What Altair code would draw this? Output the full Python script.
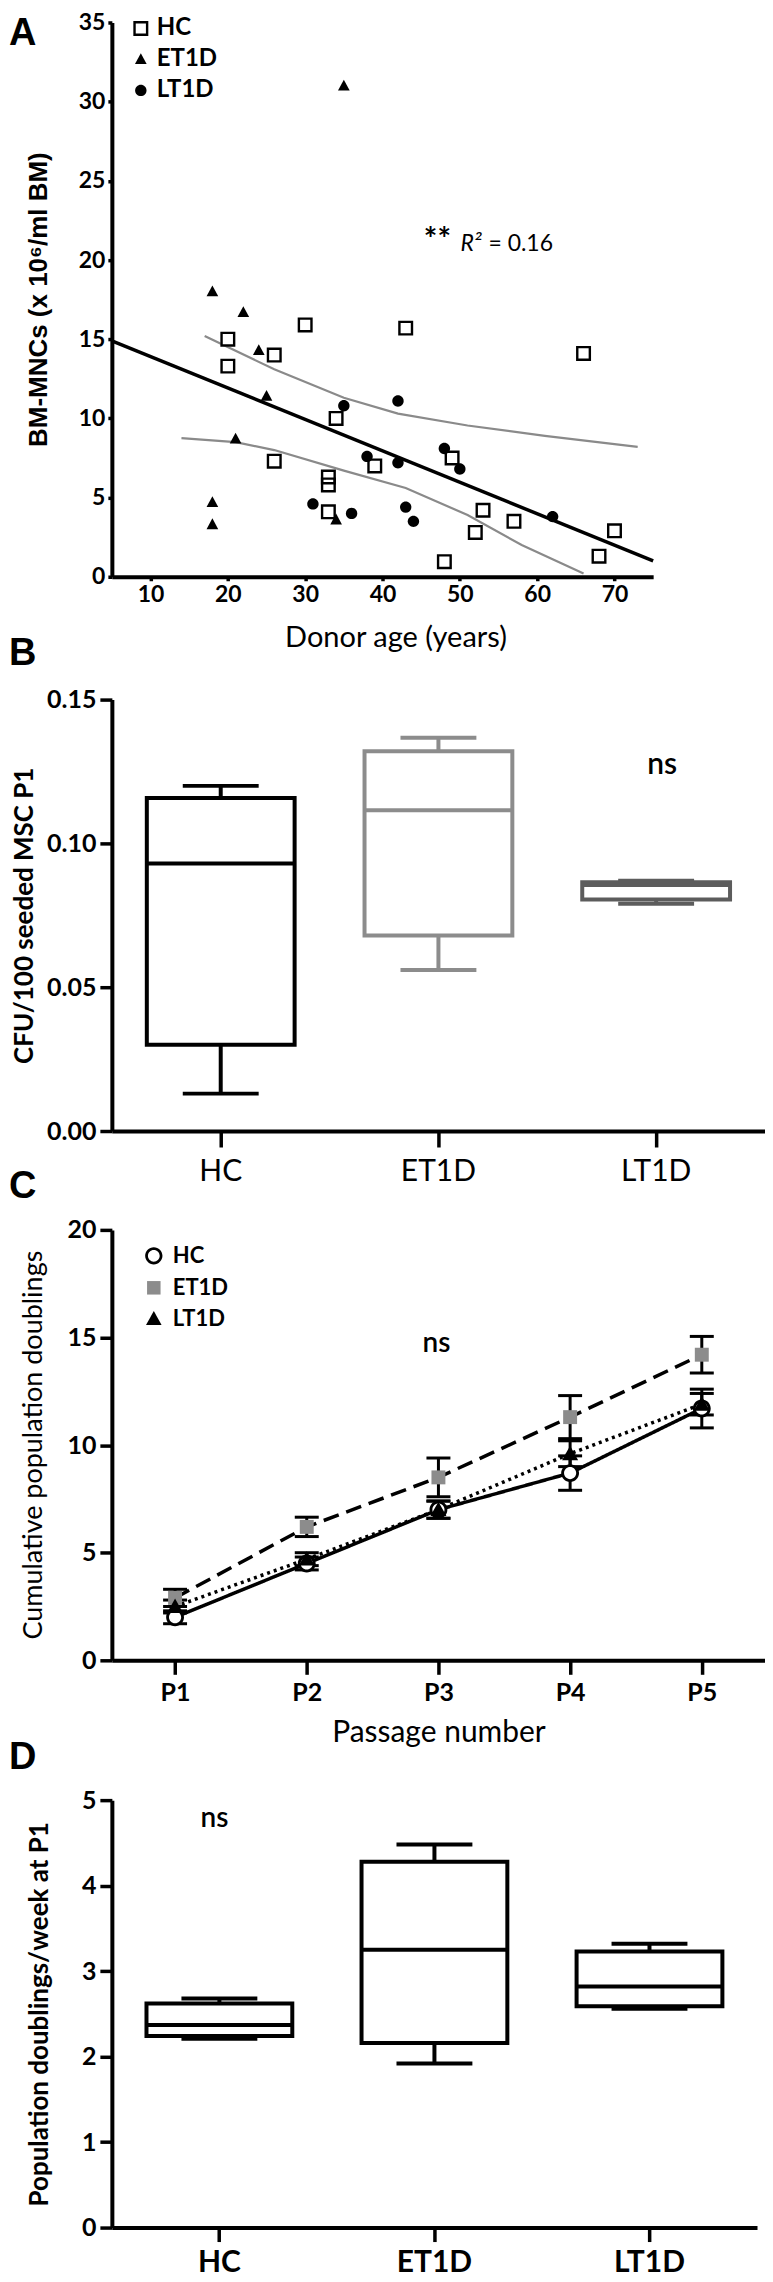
import altair as alt
import pandas as pd

# ---------------- Panel A: BM-MNCs vs donor age ----------------
hc_age = [20, 20, 26, 30, 43, 66, 26, 34, 33, 33, 33, 39, 49, 53, 52, 57, 48, 68, 70]
hc_mnc = [15.0, 13.3, 14.0, 15.9, 15.7, 14.1, 7.3, 10.0, 6.3, 5.8, 4.1, 7.0, 7.5, 4.2, 2.8, 3.5, 0.95, 1.3, 2.9]
et_age = [35, 18, 22, 24, 25, 21, 18, 18, 34]
et_mnc = [31.0, 18.0, 16.7, 14.3, 11.4, 8.7, 4.7, 3.3, 3.6]
lt_age = [35, 42, 38, 42, 48, 50, 31, 36, 43, 44, 62]
lt_mnc = [10.8, 11.1, 7.6, 7.2, 8.1, 6.8, 4.6, 4.0, 4.4, 3.5, 3.8]
reg_age = [5, 75]
reg_mnc = [14.9, 1.0]
ci_upper_age = [17, 26, 35, 42, 51, 61, 73]
ci_upper_mnc = [15.2, 13.1, 11.3, 10.3, 9.55, 8.9, 8.2]
ci_lower_age = [14, 21, 26, 35, 43, 51, 58, 66]
ci_lower_mnc = [8.75, 8.5, 8.0, 6.7, 5.6, 3.9, 2.0, 0.2]
age_ticks = [10, 20, 30, 40, 50, 60, 70]
mnc_ticks = [0, 5, 10, 15, 20, 25, 30, 35]

groups = ["HC", "ET1D", "LT1D"]

# ---------------- Panel B: CFU boxes ----------------
cfu_min = [0.013, 0.056, 0.079]
cfu_q1 = [0.030, 0.068, 0.0805]
cfu_med = [0.093, 0.1115, 0.0855]
cfu_q3 = [0.1158, 0.132, 0.0865]
cfu_max = [0.120, 0.1367, 0.087]
cfu_ticks = [0.0, 0.05, 0.10, 0.15]

# ---------------- Panel C: cumulative population doublings ----------------
passages = ["P1", "P2", "P3", "P4", "P5"]
hc_cpd = [2.0, 4.5, 7.0, 8.7, 11.7]
hc_cpd_err = [0.3, 0.3, 0.4, 0.8, 0.9]
et_cpd = [2.9, 6.2, 8.5, 11.3, 14.2]
et_cpd_err = [0.4, 0.45, 0.9, 1.0, 0.85]
lt_cpd = [2.5, 4.7, 7.0, 9.6, 11.9]
lt_cpd_err = [0.3, 0.3, 0.4, 0.6, 0.5]
cpd_ticks = [0, 5, 10, 15, 20]

# ---------------- Panel D: population doublings / week ----------------
pdw_min = [2.21, 1.92, 2.56]
pdw_q1 = [2.24, 2.16, 2.59]
pdw_med = [2.37, 3.25, 2.82]
pdw_q3 = [2.62, 4.28, 3.23]
pdw_max = [2.68, 4.48, 3.32]
pdw_ticks = [0, 1, 2, 3, 4, 5]

FONT = "Lato"

# symbol outlines (unit box -1..1); open symbols are drawn as filled rings
RING_SQUARE = "M-1,-1L1,-1L1,1L-1,1Z M-0.68,-0.68L-0.68,0.68L0.68,0.68L0.68,-0.68Z"
RING_CIRCLE = ("M1,0A1,1 0 1,0 -1,0A1,1 0 1,0 1,0Z "
               "M0.68,0A0.68,0.68 0 1,1 -0.68,0A0.68,0.68 0 1,1 0.68,0Z")
TRI_A = "M0,-0.82L0.78,0.62L-0.78,0.62Z"
CIRC_A = "M0.76,0A0.76,0.76 0 1,1 -0.76,0A0.76,0.76 0 1,1 0.76,0Z"
SQ_C = "M-0.78,-0.78L0.78,-0.78L0.78,0.78L-0.78,0.78Z"
TRI_C = "M0,-0.9L0.9,0.72L-0.9,0.72Z"


def letter(ch, y):
    return alt.Chart(pd.DataFrame({"t": [ch]})).mark_text(
        font="Liberation Sans", fontSize=38, fontWeight="bold", align="left", baseline="alphabetic"
    ).encode(text="t:N", x=alt.value(-103), y=alt.value(y))


# ======== Panel A ========
dfA = pd.DataFrame({
    "age": hc_age + et_age + lt_age,
    "mnc": hc_mnc + et_mnc + lt_mnc,
    "grpA": ["HC"] * len(hc_age) + ["ET1D"] * len(et_age) + ["LT1D"] * len(lt_age),
})
xA = alt.X("age:Q", scale=alt.Scale(domain=[5, 75], nice=False, zero=False),
           axis=alt.Axis(values=age_ticks, title="Donor age (years)", tickSize=4, labelPadding=3,
                         labelFontSize=23, titleFontSize=29, titleFontWeight="normal",
                         titleX=284, titleY=61, titleBaseline="middle"))
yA = alt.Y("mnc:Q", scale=alt.Scale(domain=[0, 35], nice=False),
           axis=alt.Axis(values=mnc_ticks, title="BM-MNCs (x 10⁶/ml BM)", titleFont="Liberation Sans",
                         titleFontWeight="bold", titleFontSize=26, titleX=-73, titleY=277,
                         titleBaseline="middle", tickSize=4, labelPadding=3, labelFontSize=23))

legA = alt.Legend(title=None, orient="none", legendX=17, legendY=-6, labelFontSize=24, labelFont=FONT,
                  labelFontWeight="bold", symbolSize=225, rowPadding=7, padding=0, labelOffset=4)
underA = alt.Chart(dfA).transform_filter(alt.datum.grpA == "HC").mark_point(
    shape="square", filled=True, fill="white", opacity=1, size=200, strokeOpacity=0).encode(x=xA, y=yA)
ptsA = alt.Chart(dfA).mark_point(filled=True, opacity=1, size=225, strokeOpacity=0).encode(
    x=xA, y=yA,
    shape=alt.Shape("grpA:N", scale=alt.Scale(domain=groups, range=[RING_SQUARE, TRI_A, CIRC_A]), legend=legA),
    fill=alt.Fill("grpA:N", scale=alt.Scale(domain=groups, range=["black", "black", "black"]), legend=legA),
)
regA = alt.Chart(pd.DataFrame({"age": reg_age, "mnc": reg_mnc})).mark_line(
    color="black", strokeWidth=3.5).encode(x=xA, y=yA)
dfCI = pd.DataFrame({
    "age": ci_upper_age + ci_lower_age,
    "mnc": ci_upper_mnc + ci_lower_mnc,
    "band": ["upper"] * len(ci_upper_age) + ["lower"] * len(ci_lower_age),
})
ciA = alt.Chart(dfCI).mark_line(color="#8a8a8a", strokeWidth=2.2).encode(x=xA, y=yA, detail="band:N")
starA = alt.Chart(pd.DataFrame({"t": ["**"]})).mark_text(
    font=FONT, fontSize=32, fontWeight="bold", align="center", baseline="middle").encode(
    x=alt.datum(47.1), y=alt.datum(21.2), text="t:N")
r2A = alt.Chart(pd.DataFrame({"t": ["R²"]})).mark_text(
    font=FONT, fontSize=23, fontStyle="italic", align="left", baseline="middle").encode(
    x=alt.datum(50.1), y=alt.datum(21.0), text="t:N")
r2bA = alt.Chart(pd.DataFrame({"t": ["= 0.16"]})).mark_text(
    font=FONT, fontSize=23, align="left", baseline="middle").encode(
    x=alt.datum(53.7), y=alt.datum(21.0), text="t:N")

panelA = alt.layer(ciA, regA, underA, ptsA, starA, r2A, r2bA, letter("A", 23)).properties(width=542, height=555)

# ======== Panel B ========
dfB = pd.DataFrame({"grpB": groups, "lo": cfu_min, "q1": cfu_q1, "med": cfu_med, "q3": cfu_q3, "hi": cfu_max})
xB = alt.X("grpB:N", sort=groups, scale=alt.Scale(domain=groups, paddingInner=0, paddingOuter=0),
           axis=alt.Axis(title=None, labelAngle=0, tickSize=16, labelPadding=10, labelFontSize=30,
                         labelFontWeight="normal"))
yB_axis = alt.Axis(values=cfu_ticks, format=".2f", title="CFU/100 seeded MSC P1", titleFontSize=26,
                   titleFontWeight="bold", titleX=-87, titleY=216, titleBaseline="middle",
                   tickSize=12, labelPadding=4, labelFontSize=25)
scB = alt.Scale(domain=[0, 0.15], nice=False)
colB = alt.Scale(domain=groups, range=["black", "#8c8c8c", "#5c5c5c"])
baseB = alt.Chart(dfB)
wlowB = baseB.mark_rule(strokeWidth=4).encode(
    x=xB, y=alt.Y("lo:Q", scale=scB, axis=yB_axis), y2="q1:Q", color=alt.Color("grpB:N", scale=colB, legend=None))
whiB = baseB.mark_rule(strokeWidth=4).encode(
    x=xB, y=alt.Y("q3:Q", scale=scB), y2="hi:Q", color=alt.Color("grpB:N", scale=colB, legend=None))
boxB = baseB.mark_bar(size=148, fill="white", strokeWidth=4).encode(
    x=xB, y=alt.Y("q1:Q", scale=scB), y2="q3:Q", stroke=alt.Stroke("grpB:N", scale=colB, legend=None))
medB = baseB.mark_tick(size=148, thickness=4, opacity=1).encode(
    x=xB, y=alt.Y("med:Q", scale=scB), color=alt.Color("grpB:N", scale=colB, legend=None))
capLoB = baseB.mark_tick(size=76, thickness=4, opacity=1).encode(
    x=xB, y=alt.Y("lo:Q", scale=scB), color=alt.Color("grpB:N", scale=colB, legend=None))
capHiB = baseB.mark_tick(size=76, thickness=4, opacity=1).encode(
    x=xB, y=alt.Y("hi:Q", scale=scB), color=alt.Color("grpB:N", scale=colB, legend=None))
nsB = alt.Chart(pd.DataFrame({"t": ["ns"]})).mark_text(
    font=FONT, fontSize=30, fontWeight=600, align="center", baseline="middle", dx=6).encode(
    x=alt.datum("LT1D"), y=alt.datum(0.1274), text="t:N")
panelB = alt.layer(wlowB, whiB, boxB, medB, capLoB, capHiB, nsB, letter("B", -35)).properties(width=654, height=432)

# ======== Panel C ========
dfC = pd.DataFrame({
    "pas": passages * 3,
    "val": hc_cpd + et_cpd + lt_cpd,
    "err": hc_cpd_err + et_cpd_err + lt_cpd_err,
    "grpC": ["HC"] * 5 + ["ET1D"] * 5 + ["LT1D"] * 5,
})
dfC["lo"] = dfC["val"] - dfC["err"]
dfC["hi"] = dfC["val"] + dfC["err"]
xC = alt.X("pas:N", sort=passages, scale=alt.Scale(type="point", domain=passages, padding=0.48),
           axis=alt.Axis(title="Passage number", labelAngle=0, tickSize=14, labelPadding=6, labelFontSize=25,
                         titleFontSize=30, titleFontWeight="normal", titleX=327, titleY=72,
                         titleBaseline="middle"))
scC = alt.Scale(domain=[0, 20], nice=False)
yC = alt.Y("val:Q", scale=scC,
           axis=alt.Axis(values=cpd_ticks, title="Cumulative population doublings", titleFontSize=27,
                         titleFontWeight="normal", titleX=-78, titleY=215, titleBaseline="middle",
                         tickSize=12, labelPadding=4, labelFontSize=25))
baseC = alt.Chart(dfC)
dashes = {"HC": [1, 0], "ET1D": [16, 8], "LT1D": [3, 4]}
lineLayers = [
    baseC.transform_filter(alt.datum.grpC == g).mark_line(
        color="black", strokeWidth=3.5, strokeDash=dashes[g]).encode(x=xC, y=yC)
    for g in groups
]
errC = baseC.mark_rule(color="black", strokeWidth=3).encode(x=xC, y=alt.Y("lo:Q", scale=scC), y2="hi:Q")
capLoC = baseC.mark_tick(color="black", thickness=3, size=24, opacity=1).encode(x=xC, y=alt.Y("lo:Q", scale=scC))
capHiC = baseC.mark_tick(color="black", thickness=3, size=24, opacity=1).encode(x=xC, y=alt.Y("hi:Q", scale=scC))
legC = alt.Legend(title=None, orient="none", legendX=31, legendY=15, labelFontSize=22, labelFont=FONT,
                  labelFontWeight="bold", symbolSize=300, rowPadding=9, padding=0, labelOffset=8)
underC = baseC.transform_filter(alt.datum.grpC == "HC").mark_point(
    shape="circle", filled=True, fill="white", opacity=1, size=260, strokeOpacity=0).encode(x=xC, y=yC)
ptsC = baseC.mark_point(filled=True, opacity=1, size=320, strokeOpacity=0).encode(
    x=xC, y=yC,
    shape=alt.Shape("grpC:N", scale=alt.Scale(domain=groups, range=[RING_CIRCLE, SQ_C, TRI_C]), legend=legC),
    fill=alt.Fill("grpC:N", scale=alt.Scale(domain=groups, range=["black", "#8c8c8c", "black"]), legend=legC),
)
nsC = alt.Chart(pd.DataFrame({"t": ["ns"]})).mark_text(
    font=FONT, fontSize=28, fontWeight=600, align="center", baseline="middle", dx=-2).encode(
    x=alt.datum("P3"), y=alt.datum(14.7), text="t:N")
panelC = alt.layer(*lineLayers, errC, capLoC, capHiC, underC, ptsC, nsC, letter("C", -32)).properties(
    width=654, height=431)

# ======== Panel D ========
dfD = pd.DataFrame({"grpD": groups, "lo": pdw_min, "q1": pdw_q1, "med": pdw_med, "q3": pdw_q3, "hi": pdw_max})
xD = alt.X("grpD:N", sort=groups, scale=alt.Scale(domain=groups, paddingInner=0, paddingOuter=0),
           axis=alt.Axis(title=None, labelAngle=0, tickSize=14, labelPadding=6, labelFontSize=30,
                         labelFontWeight="bold"))
scD = alt.Scale(domain=[0, 5], nice=False)
yD_axis = alt.Axis(values=pdw_ticks, format="d", title="Population doublings/week at P1", titleFontSize=26,
                   titleFontWeight="bold", titleX=-72, titleY=214, titleBaseline="middle",
                   tickSize=12, labelPadding=4, labelFontSize=25)
baseD = alt.Chart(dfD)
wlowD = baseD.mark_rule(strokeWidth=4, color="black").encode(x=xD, y=alt.Y("lo:Q", scale=scD, axis=yD_axis), y2="q1:Q")
whiD = baseD.mark_rule(strokeWidth=4, color="black").encode(x=xD, y=alt.Y("q3:Q", scale=scD), y2="hi:Q")
boxD = baseD.mark_bar(size=146, fill="white", stroke="black", strokeWidth=4).encode(
    x=xD, y=alt.Y("q1:Q", scale=scD), y2="q3:Q")
medD = baseD.mark_tick(size=146, thickness=4, color="black", opacity=1).encode(x=xD, y=alt.Y("med:Q", scale=scD))
capLoD = baseD.mark_tick(size=76, thickness=4, color="black", opacity=1).encode(x=xD, y=alt.Y("lo:Q", scale=scD))
capHiD = baseD.mark_tick(size=76, thickness=4, color="black", opacity=1).encode(x=xD, y=alt.Y("hi:Q", scale=scD))
nsD = alt.Chart(pd.DataFrame({"t": ["ns"]})).mark_text(
    font=FONT, fontSize=28, fontWeight=600, align="center", baseline="middle", dx=-5).encode(
    x=alt.datum("HC"), y=alt.datum(4.78), text="t:N")
panelD = alt.layer(wlowD, whiD, boxD, medD, capLoD, capHiD, nsD, letter("D", -31)).properties(width=646, height=428)


def spacer(h):
    return alt.Chart(pd.DataFrame({"s": [0]})).mark_point(opacity=0).encode(
        x=alt.X("s:Q", axis=None), y=alt.Y("s:Q", axis=None)).properties(width=1, height=h)


chart = alt.vconcat(
    panelA, spacer(123), panelB, spacer(99), panelC, spacer(140), panelD,
    spacing=0, bounds="flush", padding={"left": 1, "top": 2, "right": 0, "bottom": 0},
).resolve_scale(
    x="independent", y="independent", color="independent", shape="independent",
    fill="independent", stroke="independent",
).resolve_legend(
    shape="independent", fill="independent",
).configure_view(stroke=None).configure_axis(
    grid=False, domainColor="black", domainWidth=4, tickColor="black", tickWidth=3.5,
    labelColor="black", titleColor="black", labelFont=FONT, titleFont=FONT, labelFontWeight="bold",
    labelFlush=False, labelOverlap=False,
)

chart.save("out.html", embed_options={"renderer": "svg", "actions": False})
